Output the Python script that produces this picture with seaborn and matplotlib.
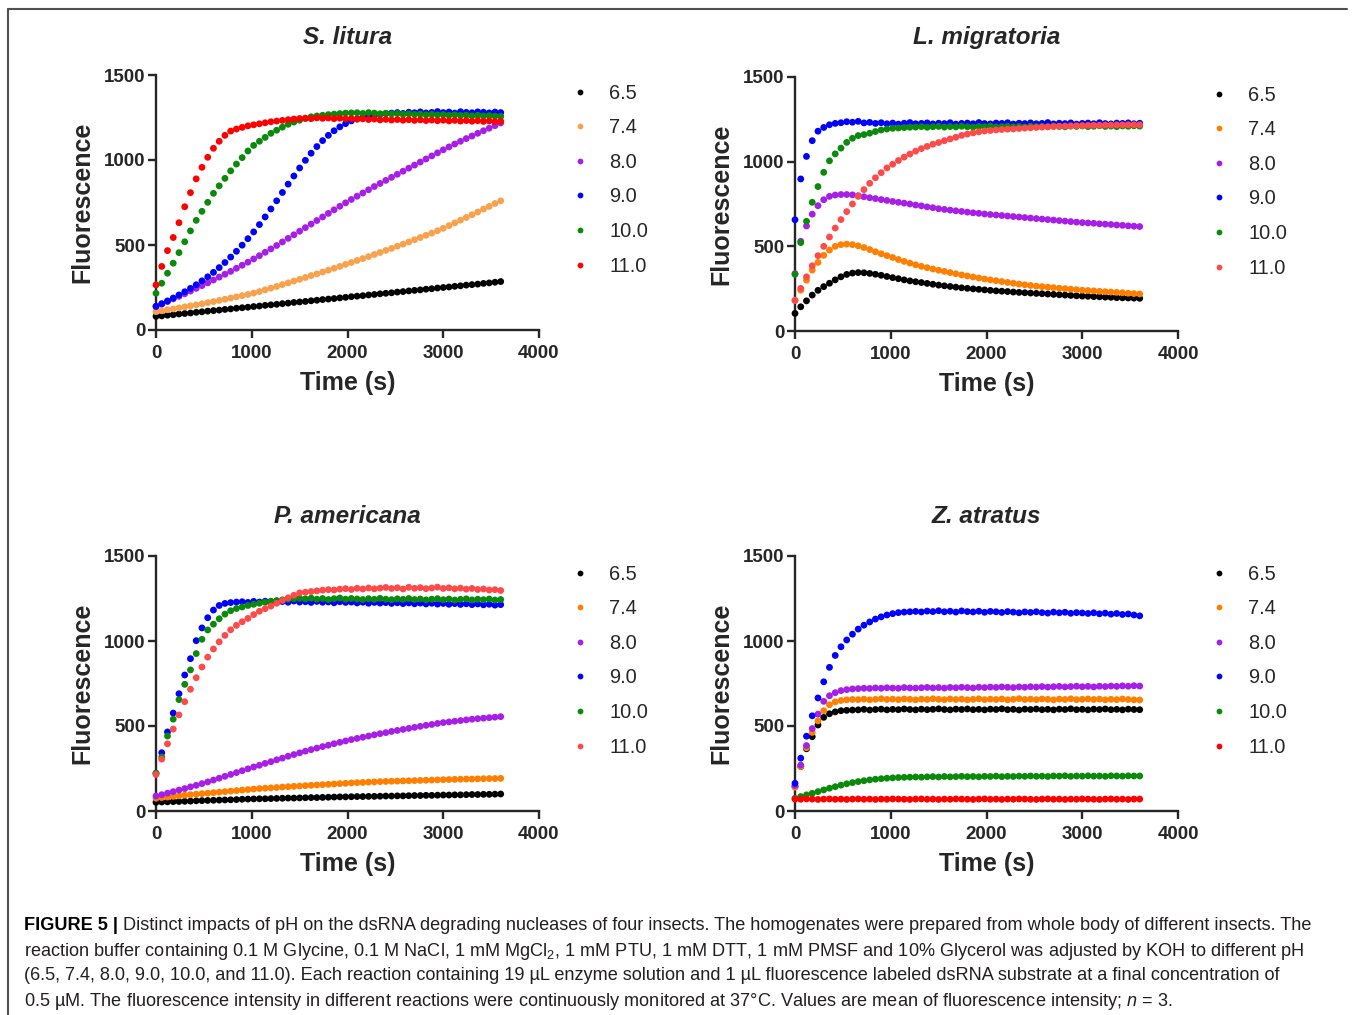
import matplotlib
matplotlib.use('Agg')
import matplotlib.pyplot as plt
from matplotlib.lines import Line2D
import pandas as pd
import seaborn as sns

# sampling times (s), one reading per minute
time_s = list(range(0, 3601, 60))
ph_levels = ['6.5', '7.4', '8.0', '9.0', '10.0', '11.0']

# ---- S. litura ----
sl_65 = [80, 83, 87, 90, 94, 97, 100, 104, 107, 111,
         114, 117, 121, 124, 128, 131, 134, 138, 141, 145,
         148, 151, 155, 158, 162, 165, 168, 172, 175, 179,
         182, 185, 189, 192, 196, 199, 202, 206, 209, 213,
         216, 219, 223, 226, 230, 233, 236, 240, 243, 247,
         250, 253, 257, 260, 264, 267, 270, 274, 277, 281,
         285]
sl_74 = [108, 113, 119, 124, 130, 136, 142, 148, 154, 161,
         167, 174, 181, 188, 195, 202, 209, 217, 226, 236,
         246, 256, 267, 277, 288, 298, 309, 320, 330, 341,
         352, 363, 374, 386, 397, 409, 420, 432, 444, 456,
         468, 480, 493, 505, 518, 531, 544, 557, 570, 584,
         598, 614, 630, 646, 662, 678, 694, 711, 727, 744,
         760]
sl_80 = [137, 152, 167, 183, 198, 213, 229, 245, 261, 277,
         294, 311, 328, 345, 363, 381, 399, 418, 437, 457,
         477, 497, 518, 539, 560, 581, 602, 623, 644, 665,
         686, 707, 728, 748, 768, 787, 806, 825, 844, 862,
         880, 898, 916, 934, 952, 970, 988, 1006, 1024, 1042,
         1060, 1077, 1094, 1110, 1126, 1141, 1157, 1172, 1187, 1202,
         1218]
sl_90 = [140, 155, 171, 188, 206, 225, 245, 266, 289, 313,
         339, 367, 397, 429, 463, 499, 537, 577, 620, 665,
         712, 760, 809, 858, 906, 953, 998, 1040, 1079, 1114,
         1145, 1172, 1195, 1214, 1230, 1242, 1252, 1259, 1265, 1269,
         1273, 1276, 1279, 1274, 1281, 1278, 1283, 1277, 1280, 1285,
         1279, 1282, 1276, 1284, 1280, 1278, 1283, 1281, 1277, 1282,
         1279]
sl_100 = [216, 275, 334, 393, 455, 519, 583, 645, 698, 751,
          804, 848, 892, 936, 976, 1014, 1053, 1086, 1110, 1133,
          1157, 1175, 1193, 1210, 1223, 1234, 1244, 1254, 1259, 1263,
          1267, 1270, 1273, 1276, 1277, 1278, 1274, 1279, 1276, 1272,
          1275, 1271, 1274, 1269, 1272, 1268, 1270, 1266, 1269, 1265,
          1267, 1263, 1266, 1262, 1264, 1260, 1263, 1259, 1261, 1258,
          1256]
sl_110 = [265, 374, 467, 544, 631, 725, 808, 889, 957, 1016,
          1069, 1110, 1145, 1170, 1182, 1192, 1201, 1207, 1213, 1219,
          1225, 1229, 1233, 1237, 1241, 1244, 1246, 1243, 1248, 1245,
          1247, 1243, 1246, 1242, 1244, 1240, 1242, 1238, 1241, 1236,
          1239, 1235, 1238, 1234, 1237, 1233, 1236, 1232, 1235, 1231,
          1234, 1230, 1233, 1229, 1232, 1228, 1231, 1227, 1230, 1226,
          1228]

# ---- L. migratoria ----
lm_65 = [104, 143, 178, 212, 240, 262, 282, 302, 320, 334,
         342, 345, 344, 340, 335, 329, 322, 315, 309, 302,
         296, 291, 286, 281, 276, 271, 267, 263, 259, 255,
         252, 249, 246, 243, 240, 237, 235, 233, 230, 228,
         226, 224, 222, 220, 218, 216, 214, 212, 210, 208,
         206, 205, 203, 202, 200, 199, 197, 196, 195, 194,
         193]
lm_74 = [182, 241, 300, 360, 405, 447, 478, 500, 510, 513,
         510, 503, 493, 481, 468, 456, 445, 434, 422, 411,
         401, 391, 382, 374, 366, 359, 352, 345, 338, 331,
         325, 319, 313, 307, 302, 297, 292, 287, 282, 277,
         273, 269, 265, 262, 259, 256, 253, 250, 247, 244,
         241, 239, 237, 234, 232, 230, 228, 226, 223, 221,
         219]
lm_80 = [339, 530, 620, 690, 740, 775, 795, 803, 806, 806,
         804, 799, 793, 787, 782, 776, 771, 765, 760, 755,
         750, 744, 739, 733, 728, 722, 718, 714, 710, 706,
         702, 698, 695, 691, 688, 685, 682, 679, 676, 673,
         670, 667, 664, 661, 658, 655, 652, 649, 646, 643,
         640, 638, 636, 633, 631, 629, 626, 624, 621, 619,
         617]
lm_90 = [657, 898, 1031, 1124, 1180, 1202, 1218, 1226, 1230, 1236,
         1233, 1238, 1229, 1232, 1226, 1230, 1224, 1228, 1222, 1227,
         1231, 1224, 1226, 1229, 1223, 1227, 1225, 1230, 1222, 1226,
         1228, 1224, 1231, 1225, 1223, 1228, 1226, 1230, 1222, 1227,
         1225, 1229, 1224, 1226, 1231, 1223, 1227, 1225, 1229, 1222,
         1226, 1228, 1224, 1230, 1225, 1223, 1228, 1226, 1229, 1224,
         1227]
lm_100 = [335, 522, 648, 760, 853, 937, 1005, 1046, 1080, 1114,
          1138, 1154, 1160, 1168, 1178, 1187, 1193, 1197, 1199, 1201,
          1203, 1204, 1207, 1203, 1206, 1208, 1204, 1207, 1205, 1209,
          1206, 1204, 1208, 1206, 1210, 1205, 1207, 1209, 1206, 1208,
          1205, 1210, 1207, 1209, 1206, 1211, 1208, 1206, 1210, 1208,
          1211, 1207, 1209, 1212, 1208, 1210, 1207, 1211, 1209, 1212,
          1210]
lm_110 = [180, 252, 320, 385, 445, 500, 555, 608, 658, 705,
          750, 795, 835, 872, 905, 935, 963, 985, 1007, 1027,
          1045, 1062, 1077, 1090, 1103, 1113, 1124, 1134, 1144, 1155,
          1163, 1170, 1176, 1181, 1184, 1187, 1190, 1192, 1193, 1196,
          1198, 1200, 1202, 1204, 1206, 1207, 1209, 1210, 1211, 1212,
          1213, 1214, 1215, 1215, 1216, 1216, 1217, 1217, 1218, 1218,
          1218]

# ---- P. americana ----
pa_65 = [51, 53, 54, 55, 56, 57, 58, 60, 61, 62,
         63, 64, 65, 66, 67, 69, 70, 71, 72, 72,
         73, 74, 75, 76, 76, 77, 78, 79, 79, 80,
         81, 82, 83, 83, 84, 85, 85, 86, 86, 87,
         88, 88, 89, 89, 90, 91, 91, 92, 92, 93,
         94, 94, 95, 95, 96, 97, 97, 98, 98, 99,
         100]
pa_74 = [75, 79, 82, 86, 89, 93, 96, 99, 102, 105,
         108, 111, 114, 117, 120, 123, 126, 129, 132, 134,
         136, 138, 141, 143, 145, 147, 149, 151, 153, 155,
         157, 159, 161, 163, 165, 167, 168, 170, 171, 173,
         174, 175, 176, 177, 178, 179, 180, 181, 182, 183,
         184, 185, 186, 187, 188, 188, 189, 190, 191, 191,
         192]
pa_80 = [88, 96, 105, 114, 123, 132, 142, 151, 161, 171,
         182, 193, 204, 215, 226, 237, 248, 259, 269, 280,
         290, 301, 311, 322, 332, 342, 352, 361, 370, 379,
         387, 396, 404, 412, 420, 427, 434, 441, 448, 455,
         461, 468, 474, 480, 486, 492, 498, 504, 509, 515,
         520, 524, 528, 532, 536, 540, 543, 546, 549, 552,
         555]
pa_90 = [222, 343, 465, 576, 690, 800, 896, 1002, 1077, 1137,
         1182, 1209, 1221, 1226, 1229, 1231, 1227, 1233, 1229, 1234,
         1230, 1226, 1232, 1228, 1235, 1229, 1231, 1227, 1233, 1228,
         1230, 1225, 1231, 1227, 1229, 1224, 1228, 1222, 1227, 1223,
         1226, 1221, 1225, 1220, 1224, 1219, 1223, 1218, 1222, 1217,
         1221, 1216, 1220, 1215, 1219, 1214, 1218, 1213, 1216, 1211,
         1214]
pa_100 = [222, 318, 441, 540, 655, 745, 830, 926, 1010, 1065,
          1099, 1131, 1158, 1178, 1191, 1200, 1209, 1216, 1222, 1228,
          1234, 1238, 1242, 1246, 1249, 1251, 1248, 1252, 1246, 1250,
          1244, 1249, 1253, 1246, 1250, 1247, 1244, 1249, 1245, 1251,
          1246, 1243, 1248, 1245, 1250, 1244, 1247, 1242, 1246, 1249,
          1243, 1247, 1241, 1245, 1248, 1242, 1246, 1243, 1247, 1241,
          1244]
pa_110 = [215, 305, 395, 482, 565, 643, 716, 784, 847, 905,
          953, 995, 1033, 1066, 1092, 1113, 1133, 1155, 1175, 1190,
          1205, 1222, 1238, 1254, 1269, 1283, 1287, 1291, 1295, 1299,
          1302, 1300, 1305, 1308, 1303, 1310, 1306, 1312, 1307, 1311,
          1315, 1309, 1313, 1306, 1316, 1310, 1314, 1308, 1312, 1317,
          1309, 1313, 1307, 1311, 1305, 1309, 1303, 1306, 1300, 1302,
          1297]

# ---- Z. atratus ----
za_65 = [143, 262, 366, 437, 506, 551, 572, 583, 590, 592,
         594, 595, 598, 594, 597, 599, 595, 598, 596, 600,
         597, 595, 599, 596, 598, 601, 597, 595, 599, 597,
         600, 596, 598, 595, 599, 597, 601, 596, 598, 594,
         599, 597, 600, 596, 598, 595, 599, 597, 601, 596,
         598, 595, 599, 597, 600, 596, 598, 595, 599, 597,
         596]
za_74 = [140, 262, 372, 462, 530, 590, 625, 642, 650, 654,
         656, 655, 658, 654, 657, 660, 656, 658, 655, 659,
         657, 654, 658, 656, 660, 657, 655, 659, 656, 658,
         654, 657, 660, 655, 658, 656, 659, 654, 657, 661,
         656, 658, 655, 659, 657, 654, 658, 656, 660, 655,
         657, 659, 656, 658, 654, 657, 655, 659, 656, 654,
         653]
za_80 = [150, 270, 385, 485, 570, 645, 678, 696, 708, 714,
         718, 720, 722, 721, 724, 722, 725, 723, 722, 726,
         724, 723, 725, 727, 724, 726, 723, 727, 725, 728,
         726, 724, 728, 726, 729, 727, 730, 728, 726, 730,
         728, 731, 729, 732, 729, 731, 733, 730, 732, 734,
         731, 733, 730, 734, 732, 735, 733, 736, 734, 737,
         735]
za_90 = [163, 311, 440, 560, 665, 760, 845, 915, 966, 1006,
         1040, 1070, 1093, 1112, 1129, 1142, 1153, 1161, 1167, 1170,
         1172, 1174, 1171, 1176, 1173, 1178, 1172, 1175, 1170, 1177,
         1173, 1171, 1175, 1169, 1174, 1172, 1168, 1173, 1170, 1166,
         1171, 1168, 1172, 1167, 1164, 1170, 1166, 1169, 1163, 1167,
         1165, 1162, 1166, 1160, 1164, 1158, 1162, 1156, 1159, 1153,
         1148]
za_100 = [75, 85, 95, 104, 114, 124, 134, 143, 152, 160,
          167, 173, 178, 183, 187, 190, 193, 195, 197, 198,
          199, 200, 199, 201, 202, 200, 203, 201, 202, 204,
          202, 203, 201, 204, 203, 205, 202, 204, 203, 205,
          204, 206, 204, 205, 203, 206, 205, 207, 204, 206,
          205, 207, 205, 206, 204, 207, 206, 205, 207, 206,
          206]
za_110 = [70, 69, 71, 70, 68, 70, 71, 69, 70, 68,
          70, 71, 69, 70, 68, 70, 69, 71, 70, 69,
          68, 70, 71, 69, 70, 68, 70, 69, 71, 70,
          69, 68, 70, 71, 69, 70, 68, 70, 69, 71,
          70, 69, 68, 70, 71, 69, 70, 68, 70, 69,
          71, 70, 69, 68, 70, 71, 69, 70, 68, 70,
          70]

panels = [
    ('S. litura', [sl_65, sl_74, sl_80, sl_90, sl_100, sl_110],
     ['#000000', '#F8A24D', '#A71FE6', '#0000FF', '#0A8A0A', '#FF0000']),
    ('L. migratoria', [lm_65, lm_74, lm_80, lm_90, lm_100, lm_110],
     ['#000000', '#FF8000', '#A71FE6', '#0000FF', '#0A8A0A', '#FF4A4A']),
    ('P. americana', [pa_65, pa_74, pa_80, pa_90, pa_100, pa_110],
     ['#000000', '#FF8000', '#A71FE6', '#0000FF', '#0A8A0A', '#FF4A4A']),
    ('Z. atratus', [za_65, za_74, za_80, za_90, za_100, za_110],
     ['#000000', '#FF8000', '#A71FE6', '#0000FF', '#0A8A0A', '#FF0000']),
]

sns.set_style('ticks')
plt.rcParams['font.family'] = ['Liberation Sans', 'DejaVu Sans']
plt.rcParams['mathtext.fontset'] = 'custom'
plt.rcParams['mathtext.rm'] = 'Liberation Sans'
plt.rcParams['mathtext.it'] = 'Liberation Sans:italic'
plt.rcParams['mathtext.bf'] = 'Liberation Sans:bold'

W, H = 1355, 1015
fig = plt.figure(figsize=(W / 100, H / 100), dpi=100)

# axes boxes in pixels: (left, x-axis y, top, title pad)
boxes = [(156, 330, 75, 22), (795, 331, 77, 23.5), (156, 811, 556, 23.5), (795, 811, 556, 23.5)]
ax_w = 383

for (name, series, colors), (left, bottom, top, tpad) in zip(panels, boxes):
    ax = fig.add_axes([left / W, 1 - bottom / H, ax_w / W, (bottom - top) / H])
    frames = []
    for ph, vals in zip(ph_levels, series):
        if len(vals) != len(time_s):
            raise ValueError(f'{name} pH {ph}: {len(vals)} values')
        frames.append(pd.DataFrame({'Time (s)': time_s, 'Fluorescence': vals, 'pH': ph}))
    df = pd.concat(frames, ignore_index=True)
    palette = dict(zip(ph_levels, colors))

    sns.scatterplot(data=df, x='Time (s)', y='Fluorescence', hue='pH', hue_order=ph_levels,
                    palette=palette, s=24, linewidth=0, ax=ax, clip_on=False, zorder=3)

    ax.set_xlim(0, 4000)
    ax.set_ylim(0, 1500)
    ax.set_xticks([0, 1000, 2000, 3000, 4000])
    ax.set_yticks([0, 500, 1000, 1500])
    sns.despine(ax=ax)
    for side in ['left', 'bottom']:
        ax.spines[side].set_linewidth(1.7)
    ax.tick_params(direction='out', length=5.5, width=1.7, labelsize=13.5)
    ax.tick_params(axis='y', pad=2)
    ax.tick_params(axis='x', pad=5)
    for lab in ax.get_xticklabels() + ax.get_yticklabels():
        lab.set_fontweight('bold')
    ax.set_xlabel('Time (s)', fontsize=18, fontweight='bold', labelpad=7)
    ax.set_ylabel('Fluorescence', fontsize=18, fontweight='bold', labelpad=7)
    ax.set_title(name, fontsize=17.5, fontweight='bold', fontstyle='italic', pad=tpad)

    sns.move_legend(ax, 'upper left', bbox_to_anchor=(1.087, 0.966), title=None, frameon=False,
                    fontsize=14.4, handlelength=0.8, handletextpad=1.04, labelspacing=0.78,
                    borderpad=0, borderaxespad=0, markerscale=0.85)

# thin frame around the figure (top and left only)
fig.add_artist(Line2D([8 / W, 1347 / W], [1 - 9 / H, 1 - 9 / H], transform=fig.transFigure,
                      color='#505050', lw=1.5))
fig.add_artist(Line2D([8 / W, 8 / W], [1 - 9 / H, 0], transform=fig.transFigure,
                      color='#505050', lw=1.5))

# caption
cap_bold = 'FIGURE 5 |'
cap_lines = [
    ' Distinct impacts of pH on the dsRNA degrading nucleases of four insects. '
    'The homogenates were prepared from whole body of different insects. The',
    r'reaction buffer containing 0.1 M Glycine, 0.1 M NaCl, 1 mM MgCl$_\mathregular{2}$, 1 mM PTU, '
    '1 mM DTT, 1 mM PMSF and 10% Glycerol was adjusted by KOH to different pH',
    '(6.5, 7.4, 8.0, 9.0, 10.0, and 11.0). Each reaction containing 19 \u00b5L enzyme solution and '
    '1 \u00b5L fluorescence labeled dsRNA substrate at a final concentration of',
    '0.5 \u00b5M. The fluorescence intensity in different reactions were continuously monitored '
    r'at 37°C. Values are mean of fluorescence intensity; $\mathit{n}$ = 3.',
]
cap_y = [926, 951, 976, 1001]
x0 = 24
cap_color = '#231F20'

renderer = fig.canvas.get_renderer()
size = 12.0
for _ in range(2):
    for t in list(fig.texts):
        t.remove()
    tb = fig.text(x0 / W, 1 - cap_y[0] / H, cap_bold, fontsize=size, fontweight='bold',
                  va='center', ha='left', color='#000000')
    bb = tb.get_window_extent(renderer)
    t1 = fig.text(bb.x1 / W, 1 - cap_y[0] / H, cap_lines[0], fontsize=size,
                  va='center', ha='left', color=cap_color)
    others = [fig.text(x0 / W, 1 - y / H, s, fontsize=size, va='center', ha='left', color=cap_color)
              for s, y in zip(cap_lines[1:], cap_y[1:])]
    right = t1.get_window_extent(renderer).x1
    size = size * (1320 - x0) / (right - x0)

fig.savefig('out.png', dpi=100)
